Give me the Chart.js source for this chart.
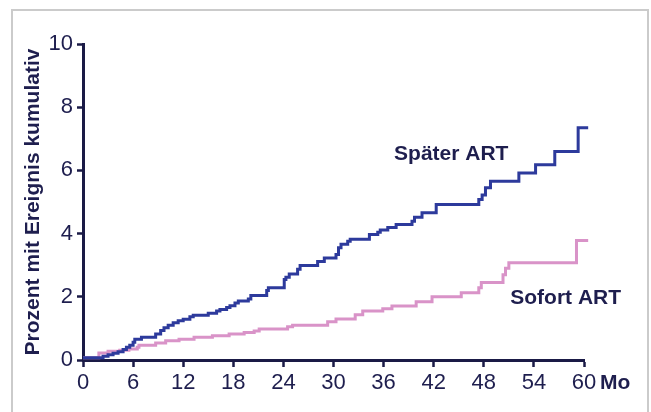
<!DOCTYPE html>
<html>
<head>
<meta charset="utf-8">
<script src="https://cdn.jsdelivr.net/npm/chart.js@4.4.1/dist/chart.umd.min.js"></script>
<style>
  html, body { margin: 0; padding: 0; background: #ffffff; }
  #wrap { position: relative; width: 651px; height: 412px; overflow: hidden; }
  #frame { position: absolute; left: 11px; top: 9px; width: 634px; height: 500px; border: 2px solid #cbcbcb; pointer-events: none; }
  canvas { position: absolute; left: 0; top: 0; }
</style>
</head>
<body>
<div id="wrap">
  <div id="frame"></div>
  <canvas id="c" width="651" height="412"></canvas>
</div>
<script>
// Months (event times) and cumulative event percentages
const spaeterMonths = [0, 2.4, 3.0, 3.6, 4.2, 4.8, 5.2, 5.6, 6.0, 6.2, 7.0, 8.7, 9.3, 9.7, 10.2, 10.8, 11.4, 12.0, 12.8, 13.2, 15.0, 16.0, 16.4, 17.2, 17.6, 18.2, 18.6, 19.8, 20.1, 22.0, 22.2, 24.1, 24.3, 24.7, 25.7, 26.0, 28.1, 28.9, 30.3, 30.6, 30.9, 31.7, 32.0, 34.3, 35.3, 35.6, 36.5, 37.5, 39.4, 39.7, 40.6, 42.3, 47.4, 47.8, 48.2, 48.8, 52.2, 54.2, 56.5, 59.3, 60.5];
const spaeterValues = [0.07, 0.12, 0.17, 0.21, 0.26, 0.33, 0.40, 0.47, 0.56, 0.66, 0.72, 0.82, 0.93, 1.02, 1.10, 1.18, 1.24, 1.29, 1.37, 1.42, 1.48, 1.55, 1.60, 1.66, 1.72, 1.80, 1.87, 1.93, 2.04, 2.20, 2.29, 2.55, 2.62, 2.72, 2.87, 2.99, 3.12, 3.23, 3.34, 3.55, 3.66, 3.76, 3.82, 3.97, 4.04, 4.11, 4.19, 4.29, 4.39, 4.52, 4.66, 4.92, 5.08, 5.22, 5.45, 5.66, 5.92, 6.18, 6.60, 7.35, 7.35];

const sofortMonths = [0, 1.9, 3.0, 4.4, 5.5, 6.5, 6.7, 8.7, 9.9, 11.5, 13.3, 15.5, 17.5, 19.3, 20.5, 21.1, 24.5, 25.1, 29.3, 30.3, 32.6, 33.5, 35.9, 37.0, 39.9, 41.8, 45.3, 47.4, 47.7, 50.3, 50.6, 51.0, 59.1, 60.5];
const sofortValues = [0.07, 0.22, 0.28, 0.31, 0.35, 0.40, 0.47, 0.54, 0.61, 0.66, 0.72, 0.77, 0.82, 0.87, 0.92, 0.98, 1.05, 1.10, 1.21, 1.30, 1.43, 1.55, 1.62, 1.71, 1.84, 2.00, 2.13, 2.29, 2.45, 2.70, 2.90, 3.08, 3.78, 3.78];

const seriesNames = ['Später ART', 'Sofort ART'];
const xTickValues = [0, 6, 12, 18, 24, 30, 36, 42, 48, 54, 60];
const yTickValues = [0, 2, 4, 6, 8, 10];
const yAxisTitle = 'Prozent mit Ereignis kumulativ';
const xUnitLabel = 'Mo';

const navy = '#1e1e4e';
const axisColor = '#1a1a46';
const blue = '#2d3a9c';
const pink = '#d993c8';
const FONT = '"Liberation Sans", Arial, Helvetica, sans-serif';
const TICKFONT = '"Liberation Sans Narrow", "Arial Narrow", "Liberation Sans", Arial, sans-serif';

function toPoints(xs, ys) { return xs.map((x, i) => ({ x: x, y: ys[i] })); }

const textPlugin = {
  id: 'textPlugin',
  afterDatasetsDraw(chart) {
    const ctx = chart.ctx;
    const xs = chart.scales.x, ys = chart.scales.y;
    ctx.save();
    ctx.fillStyle = navy;
    ctx.textBaseline = 'middle';
    ctx.textAlign = 'center';
    ctx.font = 'bold 21px ' + FONT;
    ctx.fillText(seriesNames[0], xs.getPixelForValue(44.1), ys.getPixelForValue(6.52));
    ctx.fillText(seriesNames[1], xs.getPixelForValue(57.8), ys.getPixelForValue(1.95));
    ctx.textAlign = 'left';
    ctx.font = 'bold 21px ' + FONT;
    ctx.fillText(xUnitLabel, xs.right + 16, xs.bottom - 17);
    ctx.restore();
  }
};

new Chart(document.getElementById('c'), {
  type: 'line',
  data: {
    datasets: [
      {
        label: seriesNames[0],
        data: toPoints(spaeterMonths, spaeterValues),
        borderColor: blue,
        borderWidth: 3,
        pointRadius: 0,
        stepped: 'before',
        fill: false,
        clip: false
      },
      {
        label: seriesNames[1],
        data: toPoints(sofortMonths, sofortValues),
        borderColor: pink,
        borderWidth: 3,
        pointRadius: 0,
        stepped: 'before',
        fill: false,
        clip: false
      }
    ]
  },
  options: {
    responsive: false,
    animation: false,
    events: [],
    layout: { padding: { left: 0, right: 67, top: 44, bottom: 12 } },
    plugins: {
      legend: { display: false },
      tooltip: { enabled: false },
      title: { display: false }
    },
    scales: {
      x: {
        type: 'linear',
        min: 0,
        max: 60,
        afterFit(scale) { scale.height = 40; },
        afterBuildTicks(scale) { scale.ticks = xTickValues.map(v => ({ value: v })); },
        grid: { drawOnChartArea: false, drawTicks: true, tickLength: 7, tickWidth: 2.5, tickColor: axisColor },
        border: { display: true, color: axisColor, width: 3 },
        ticks: { color: navy, font: { family: TICKFONT, size: 22, lineHeight: 1.1 }, padding: 4, maxRotation: 0, autoSkip: false }
      },
      y: {
        type: 'linear',
        min: 0,
        max: 10,
        afterFit(scale) { scale.width = 83; },
        afterBuildTicks(scale) { scale.ticks = yTickValues.map(v => ({ value: v })); },
        grid: { drawOnChartArea: false, drawTicks: true, tickLength: 6, tickWidth: 2.5, tickColor: axisColor },
        border: { display: true, color: axisColor, width: 3 },
        ticks: { color: navy, font: { family: TICKFONT, size: 22 }, padding: 4 },
        title: {
          display: true,
          text: yAxisTitle,
          color: navy,
          font: { family: FONT, size: 21, weight: 'bold', lineHeight: 1.2 },
          padding: { top: 21, bottom: 0 }
        }
      }
    }
  },
  plugins: [textPlugin]
});
</script>
</body>
</html>
